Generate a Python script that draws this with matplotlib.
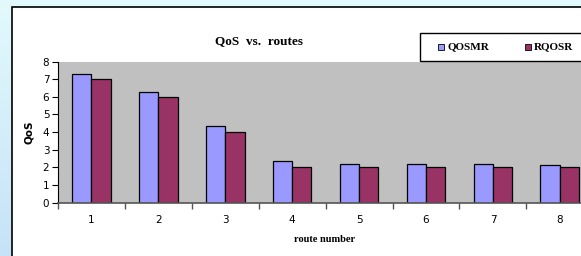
import numpy as np
import matplotlib
matplotlib.use("Agg")
import matplotlib.pyplot as plt
from matplotlib.patches import Rectangle

routes = [1, 2, 3, 4, 5, 6, 7, 8]
qosmr = [7.3, 6.3, 4.35, 2.35, 2.2, 2.2, 2.2, 2.15]
rqosr = [7.0, 6.0, 4.0, 2.0, 2.0, 2.0, 2.0, 2.0]
series_names = ["QOSMR", "RQOSR"]
colors = ["#9999FF", "#993366"]

W, H = 581, 256
fig = plt.figure(figsize=(W / 100, H / 100), dpi=100)

# light cyan / blue backdrop
bg = fig.add_axes([0, 0, 1, 1], zorder=-10)
grad = np.linspace(0, 1, 256).reshape(-1, 1)
cmap = matplotlib.colors.LinearSegmentedColormap.from_list("bg", ["#E2FAFC", "#C6E2F8"])
bg.imshow(grad, aspect="auto", cmap=cmap, extent=[0, 1, 0, 1], origin="upper")
bg.set_axis_off()

# white chart area with black border (cut off at right / bottom)
fig.patches.append(Rectangle((12 / W, -0.1), 1.2, 1 - 6.5 / H + 0.1, transform=fig.transFigure,
                             facecolor="white", edgecolor="black", linewidth=1.2, zorder=-5))

ax = fig.add_axes([57.7 / W, 53.3 / H, 535.7 / W, 141.2 / H])
ax.set_facecolor("#C0C0C0")
x = np.arange(len(routes))
bw = 0.29
ax.bar(x - bw / 2, qosmr, bw, color=colors[0], edgecolor="black", linewidth=0.9)
ax.bar(x + bw / 2, rqosr, bw, color=colors[1], edgecolor="black", linewidth=0.9)
ax.set_xlim(-0.5, len(routes) - 0.5)
ax.set_ylim(0, 8)
ax.set_yticks(range(0, 9))
ax.set_xticks(x)
ax.set_xticklabels([str(r) for r in routes])
ax.set_xticks(np.arange(len(routes) + 1) - 0.5, minor=True)
ax.tick_params(axis="x", which="major", length=0, pad=9, labelsize=7.5)
ax.tick_params(axis="x", which="minor", length=4, color="#555555", width=1)
ax.tick_params(axis="y", length=4, width=0.8, labelsize=7.5, pad=2)
for s in ["top", "right"]:
    ax.spines[s].set_visible(False)
ax.spines["left"].set_color("black")
ax.spines["bottom"].set_color("#555555")
ax.spines["bottom"].set_linewidth(1.2)

ax.set_ylabel("QoS", fontsize=7.5, fontweight="bold", labelpad=6)
fig.text(325 / W, 1 - 239 / H, "route number", ha="center", va="center",
         fontsize=7.5, fontweight="bold", family="Liberation Serif")
fig.text(259 / W, 1 - 41.5 / H, "QoS  vs.  routes", ha="center", va="center",
         fontsize=9.5, fontweight="bold", family="Liberation Serif")

# legend box
fig.patches.append(Rectangle((419.5 / W, 1 - 61 / H), 0.4, 28 / H, transform=fig.transFigure,
                             facecolor="white", edgecolor="black", linewidth=1.0, zorder=2))
for mx, name, c in zip([441, 528], series_names, colors):
    fig.patches.append(Rectangle(((mx - 3) / W, 1 - 50 / H), 6 / W, 6 / H, transform=fig.transFigure,
                                 facecolor=c, edgecolor="black", linewidth=0.6, zorder=3))
    fig.text((mx + 6) / W, 1 - 47 / H, name, ha="left", va="center", fontsize=8,
             fontweight="bold", family="Liberation Serif", zorder=4)

fig.savefig("out.png", dpi=100)
